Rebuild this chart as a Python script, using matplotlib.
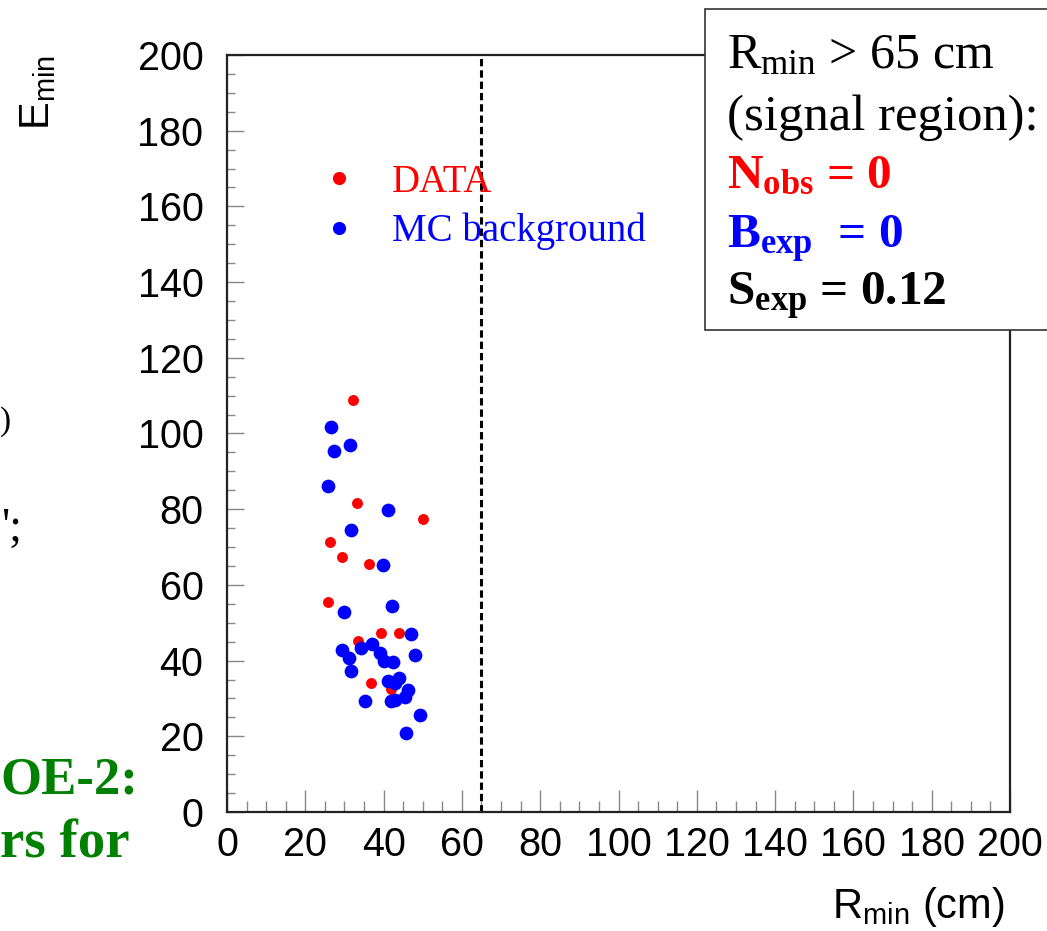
import matplotlib
matplotlib.use("Agg")
import matplotlib.pyplot as plt
from matplotlib.lines import Line2D
from matplotlib.patches import Rectangle
from matplotlib.ticker import MultipleLocator

# valori: R_min (cm), E_min
data_r = [32.1, 33.2, 50.0, 26.2, 29.5, 36.2, 25.7, 39.4, 44.0, 33.5, 36.8, 42.0]
data_e = [108.8, 81.7, 77.4, 71.4, 67.4, 65.4, 55.5, 47.4, 47.2, 45.2, 34.1, 32.6]

mc_r = [26.5, 31.3, 27.4, 25.8, 41.0, 31.8, 39.9, 42.2, 29.8, 47.0, 37.0, 34.2,
        29.4, 31.1, 39.2, 40.2, 42.4, 47.9, 31.8, 41.1, 43.9, 43.0, 46.2, 45.4,
        42.8, 42.0, 35.3, 49.4, 45.8]
mc_e = [101.6, 97.0, 95.5, 86.1, 79.7, 74.5, 65.2, 54.5, 52.9, 46.9, 44.5, 43.2,
        42.8, 40.6, 41.9, 39.9, 39.7, 41.5, 37.3, 34.6, 35.5, 34.0, 32.2, 30.5,
        29.6, 29.2, 29.4, 25.6, 21.0]

r_cut = 65
x_ticks = list(range(0, 201, 20))
y_ticks = list(range(0, 201, 20))

W, H = 1047, 931
fig = plt.figure(figsize=(W / 100, H / 100), dpi=100)
ax = fig.add_axes([227 / W, 1 - 812 / H, (1010 - 227) / W, (812 - 55) / H])

sans = "Liberation Sans"
serif = "Liberation Serif"

# punti
ax.scatter(data_r, data_e, s=62, color="red", linewidths=0, zorder=3)
ax.scatter(mc_r, mc_e, s=98, color="blue", linewidths=0, zorder=4)

# taglio della regione di segnale
ax.axvline(r_cut, color="black", lw=2.2, ls=(0, (2.4, 1.3)), zorder=2)

ax.set_xlim(0, 200)
ax.set_ylim(0, 200)
ax.set_xticks(x_ticks)
ax.set_yticks(y_ticks)
ax.xaxis.set_minor_locator(MultipleLocator(5))
ax.yaxis.set_minor_locator(MultipleLocator(5))
ax.tick_params(axis="x", which="major", direction="in", length=16, width=1,
               color="#888888", pad=10, labelsize=28.5)
ax.tick_params(axis="x", which="minor", direction="in", length=8, width=1,
               color="#888888")
ax.tick_params(axis="y", which="major", direction="in", length=12, width=1,
               color="#888888", pad=17, labelsize=28.5)
ax.tick_params(axis="y", which="minor", direction="in", length=6, width=1,
               color="#888888")
for lab in ax.get_xticklabels() + ax.get_yticklabels():
    lab.set_fontfamily(sans)
for s in ax.spines.values():
    s.set_linewidth(1.6)
    s.set_color("#222222")

# legenda
handles = [Line2D([], [], ls="none", marker="o", ms=9.5, mfc="red", mec="none"),
           Line2D([], [], ls="none", marker="o", ms=9.5, mfc="blue", mec="none")]
ax.legend(handles, ["DATA", "MC background"], loc="upper left",
          bbox_to_anchor=(320 / W, 1 - 164 / H), bbox_transform=fig.transFigure,
          frameon=False, prop={"family": serif, "size": 28},
          labelcolor=["red", "blue"], handlelength=1.0, handletextpad=0.86,
          borderpad=0, borderaxespad=0, labelspacing=0.3)

# titoli assi
fig.text(1005 / W, 1 - 918 / H, r"R$\mathregular{_{min}}$ (cm)", family=sans,
         fontsize=30, ha="right", va="baseline")
fig.text(38 / W, 1 - 55 / H, r"E$\mathregular{_{min}}$", family=sans,
         fontsize=30, rotation=90, ha="center", va="top")

# riquadro con i risultati
fig.patches.append(Rectangle((705 / W, 1 - 330 / H), 0.5, (330 - 9) / H,
                             transform=fig.transFigure, facecolor="white",
                             edgecolor="#333333", lw=1.2, zorder=5))
box_lines = [
    (r"R$\mathregular{_{min}}$ > 65 cm", "black", "normal", 36, 68),
    ("(signal region):", "black", "normal", 36.5, 130),
    (r"N$\mathregular{_{obs}}$ = 0", "red", "bold", 35.5, 188),
    (r"B$\mathregular{_{exp}}$  = 0", "blue", "bold", 35.5, 248),
    (r"S$\mathregular{_{exp}}$ = 0.12", "black", "bold", 35.5, 305),
]
for txt, col, wt, fs, yb in box_lines:
    fig.text(727 / W, 1 - yb / H, txt, family=serif, fontsize=fs, color=col,
             fontweight=wt, ha="left", va="baseline", zorder=6)

# frammenti della slide a sinistra
fig.text(138 / W, 1 - 793 / H, "OE-2:", family=serif, fontsize=38,
         fontweight="bold", color="#008000", ha="right", va="baseline")
fig.text(130 / W, 1 - 857 / H, "rs for", family=serif, fontsize=39.5,
         fontweight="bold", color="#008000", ha="right", va="baseline")
fig.text(0, 1 - 430 / H, ")", family=serif, fontsize=24, ha="left",
         va="baseline")
fig.text(1 / W, 1 - 540 / H, "';", family=serif, fontsize=33, ha="left",
         va="baseline")

fig.savefig("out.png", dpi=100)
